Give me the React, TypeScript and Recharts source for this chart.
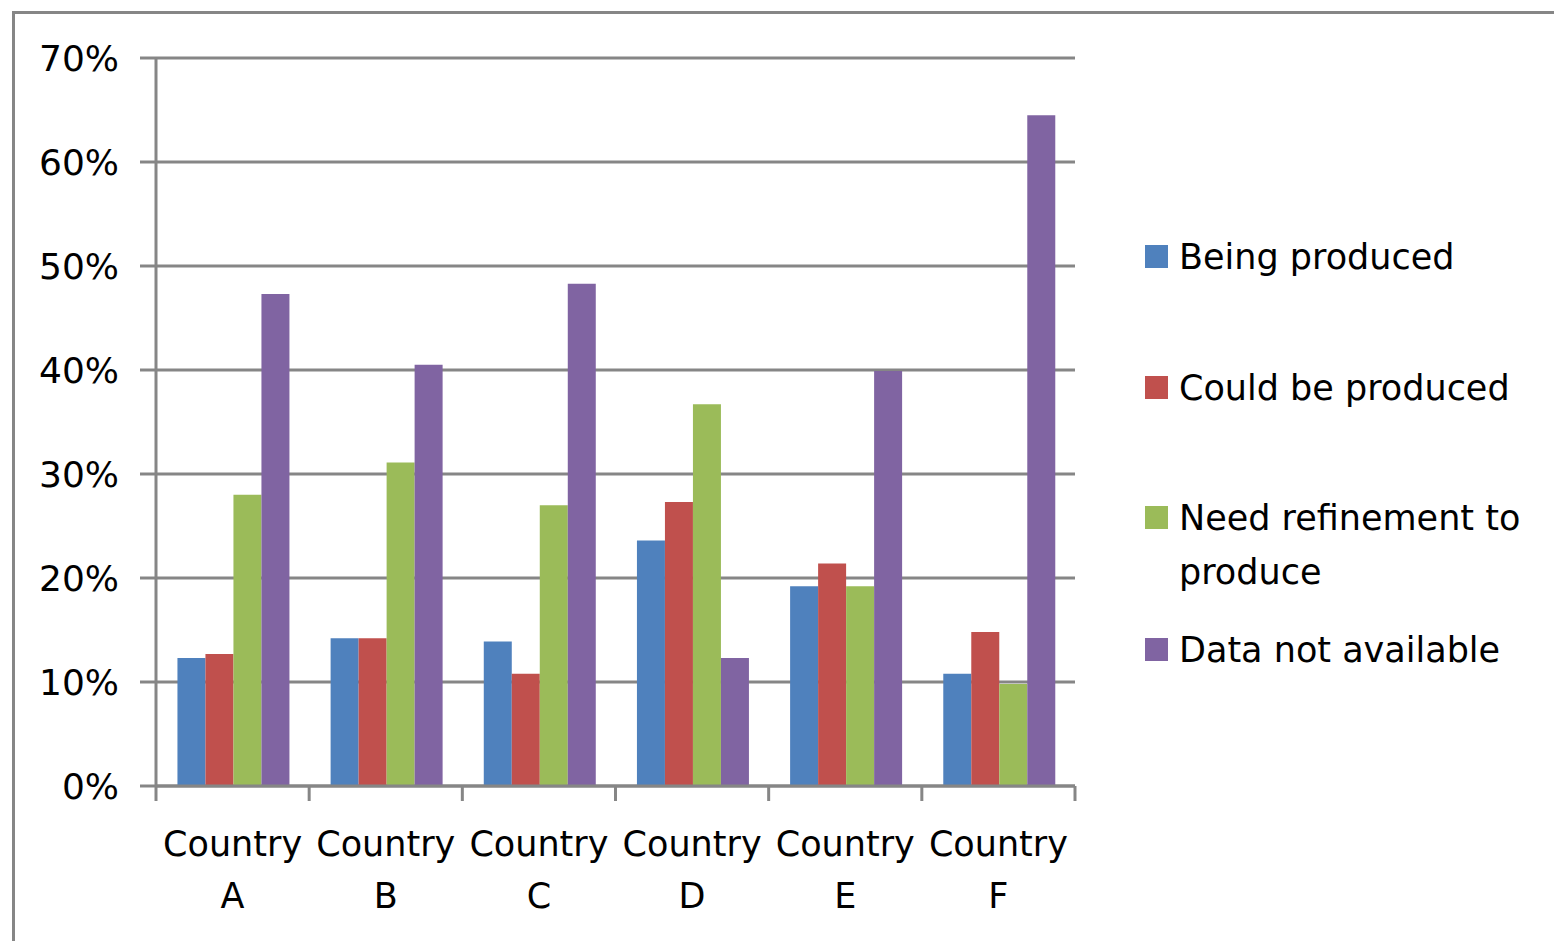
import React from "react";
import { BarChart, Bar, XAxis, YAxis, CartesianGrid, Legend } from "recharts";

const categories = ["Country A", "Country B", "Country C", "Country D", "Country E", "Country F"];
const beingProduced = [12.3, 14.2, 13.9, 23.6, 19.2, 10.8];
const couldBeProduced = [12.7, 14.2, 10.8, 27.3, 21.4, 14.8];
const needRefinement = [28.0, 31.1, 27.0, 36.7, 19.2, 9.8];
const dataNotAvailable = [47.3, 40.5, 48.3, 12.3, 39.9, 64.5];
const yTicks = [0, 10, 20, 30, 40, 50, 60, 70];

const seriesNames = ["Being produced", "Could be produced", "Need refinement to produce", "Data not available"];
const seriesKeys = ["being", "could", "need", "na"];
const seriesColors = ["#4F81BD", "#C0504D", "#9BBB59", "#8064A2"];

const data = categories.map((c, i) => ({
  name: c,
  being: beingProduced[i],
  could: couldBeProduced[i],
  need: needRefinement[i],
  na: dataNotAvailable[i],
}));

const GRAY = "#868686";
const FONT = "'DejaVu Sans', Verdana, sans-serif";
const PLOT_LEFT = 156;
const PLOT_RIGHT = 1075;
const BAND = (PLOT_RIGHT - PLOT_LEFT) / categories.length;

const XTick = (props: any) => {
  const { x, y, payload, index } = props;
  const words = String(payload.value).split(" ");
  const half = BAND / 2;
  return (
    <g>
      <line x1={x - half} x2={x - half} y1={y} y2={y + 15} stroke={GRAY} strokeWidth={3} />
      {index === categories.length - 1 && (
        <line x1={x + half} x2={x + half} y1={y} y2={y + 15} stroke={GRAY} strokeWidth={3} />
      )}
      <text x={x} y={y + 70} textAnchor="middle" fill="#000" fontSize={35} fontFamily={FONT}>
        {words[0]}
      </text>
      <text x={x} y={y + 122} textAnchor="middle" fill="#000" fontSize={35} fontFamily={FONT}>
        {words[1]}
      </text>
    </g>
  );
};

const LegendContent = () => (
  <div style={{ fontFamily: FONT, fontSize: 35, color: "#000" }}>
    {seriesNames.map((n, i) => (
      <div key={n} style={{ display: "flex", alignItems: "flex-start", height: i === 2 ? 132 : 130.5 }}>
        <div
          style={{
            width: 23,
            height: 23,
            background: seriesColors[i],
            marginTop: 15,
            marginRight: 11,
            flex: "0 0 auto",
          }}
        />
        <div style={{ lineHeight: "54px", width: 372 }}>{n}</div>
      </div>
    ))}
  </div>
);

export default function App() {
  return (
    <div style={{ position: "relative", width: 1554, height: 941, overflow: "hidden", background: "#fff" }}>
      <style>{`body{margin:0}`}</style>
      <div
        style={{
          position: "absolute",
          left: 12,
          top: 11,
          width: 1554,
          height: 941,
          borderTop: `3px solid ${GRAY}`,
          borderLeft: `3px solid ${GRAY}`,
        }}
      />
      <div style={{ position: "absolute", left: 0, top: 0 }}>
        <BarChart
          width={1554}
          height={941}
          data={data}
          margin={{ top: 58, right: 1554 - PLOT_RIGHT, bottom: 0, left: 0 }}
          barCategoryGap="14%"
          barGap={0}
        >
          <CartesianGrid horizontal vertical={false} stroke={GRAY} strokeWidth={3} />
          <XAxis
            dataKey="name"
            height={941 - 786}
            axisLine={{ stroke: GRAY, strokeWidth: 3 }}
            tickLine={false}
            tickSize={0}
            tickMargin={0}
            tick={<XTick />}
            interval={0}
          />
          <YAxis
            width={PLOT_LEFT}
            domain={[0, 70]}
            ticks={yTicks}
            interval={0}
            tickFormatter={(v: number) => `${v}%`}
            axisLine={{ stroke: GRAY, strokeWidth: 3 }}
            tickLine={{ stroke: GRAY, strokeWidth: 3 }}
            tickSize={16}
            tickMargin={21}
            tick={{ fill: "#000", fontSize: 36, fontFamily: FONT }}
          />
          <Legend
            layout="vertical"
            align="center"
            verticalAlign="middle"
            content={<LegendContent />}
            wrapperStyle={{ left: 1145, top: 230, width: 409, height: 600 }}
          />
          {seriesKeys.map((k, i) => (
            <Bar key={k} dataKey={k} name={seriesNames[i]} fill={seriesColors[i]} isAnimationActive={false} />
          ))}
        </BarChart>
      </div>
    </div>
  );
}
